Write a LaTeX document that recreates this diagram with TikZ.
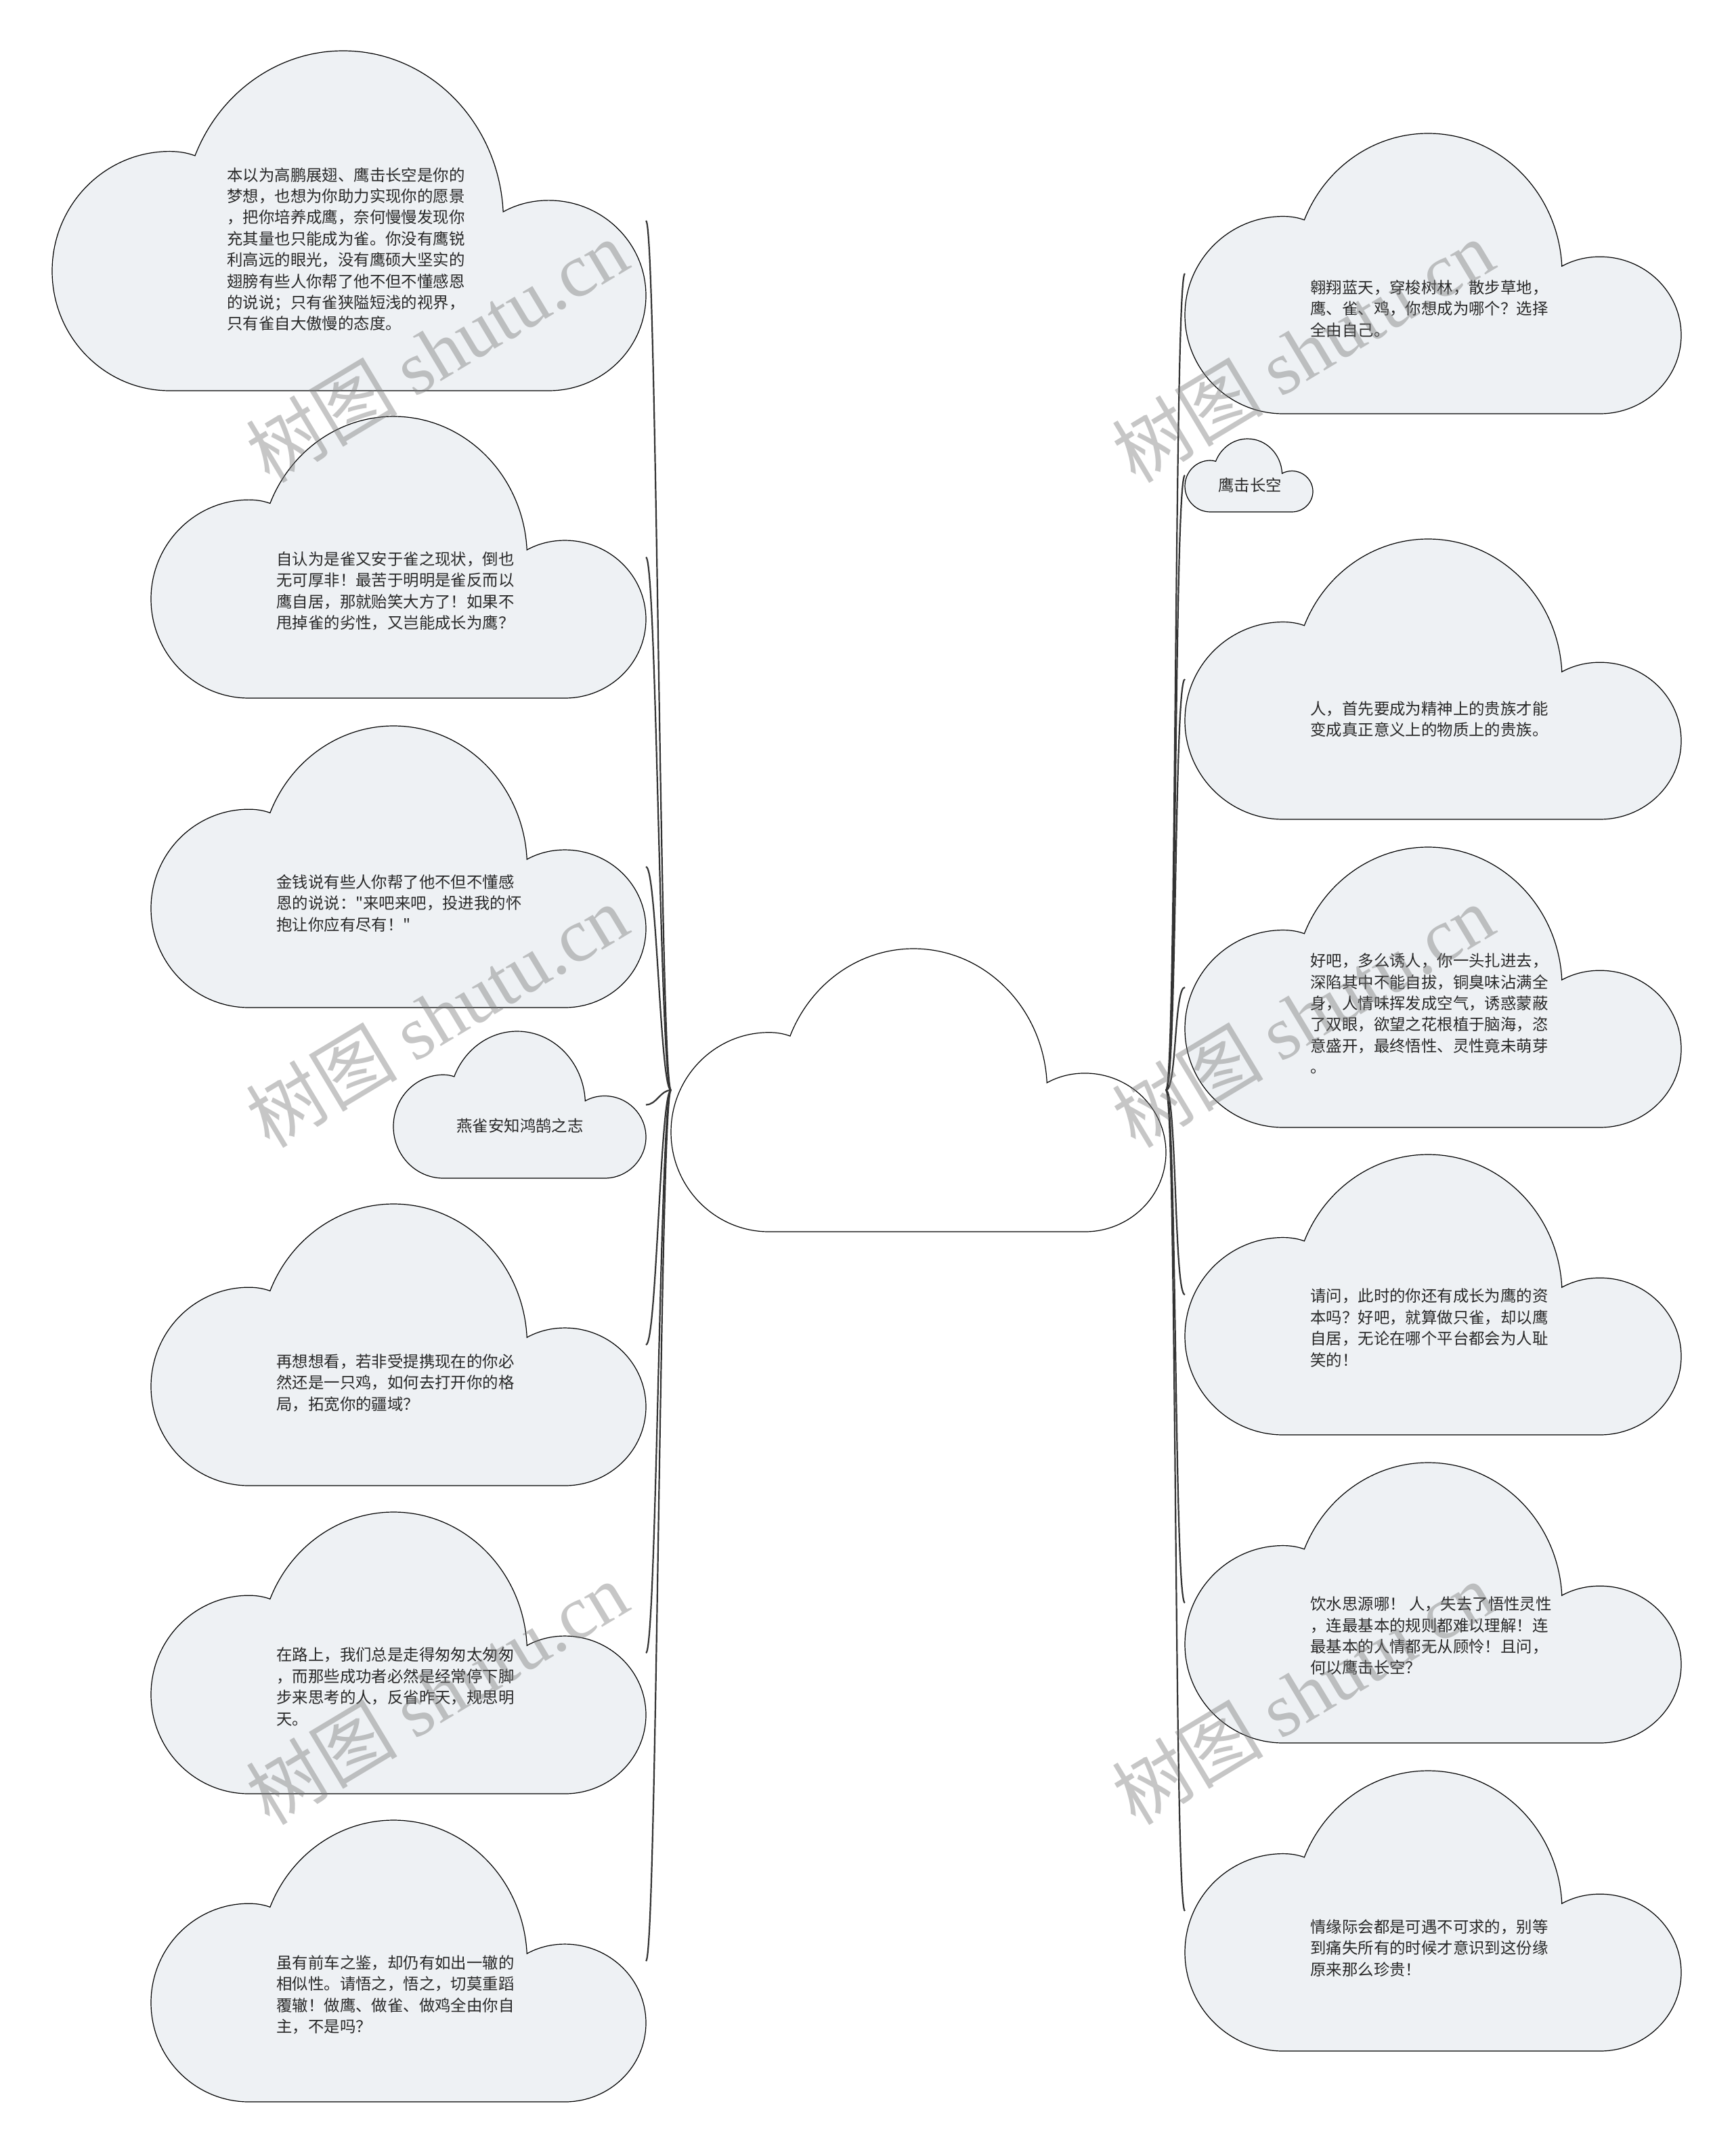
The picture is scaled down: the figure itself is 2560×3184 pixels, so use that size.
\documentclass[tikz,border=0pt]{standalone}
\usepackage{fontspec}
\setmainfont{Noto Sans CJK SC}[Ligatures=TeXOff]
\newfontfamily\wmcjk{Noto Sans CJK SC}
\newfontfamily\wmserif{Liberation Serif}
\definecolor{cloudfill}{RGB}{238,241,244}
\definecolor{txtcol}{RGB}{40,40,40}
\definecolor{linkcol}{RGB}{51,51,51}
\definecolor{wmcol}{RGB}{120,120,120}
\newcommand\cloudpath{(0.198,1) .. controls (0.0886,1) and (0,0.8424) .. (0,0.648)
 .. controls (0,0.4536) and (0.0886,0.296) .. (0.198,0.296)
 .. controls (0.215,0.296) and (0.229,0.301) .. (0.2406,0.3087)
 .. controls (0.2823,0.1218) and (0.3808,0) .. (0.49,0)
 .. controls (0.6336,0) and (0.7521,0.2082) .. (0.7596,0.4738)
 .. controls (0.7827,0.4513) and (0.8092,0.44) .. (0.836,0.44)
 .. controls (0.9266,0.44) and (1,0.5654) .. (1,0.72)
 .. controls (1,0.8746) and (0.9266,1) .. (0.836,1) -- cycle}
\newcommand\cloudshape[6]{%
  \path[cloudline, fill=#6, shift={(#2,#3)}, xscale=#4, yscale=#5] \cloudpath;
  \node[cloudbox, minimum width=#4*0.5pt, minimum height=#5*0.5pt] (#1) at (#2,#3) {};
}
\tikzset{
  cloudline/.style={draw=black, line width=0.6pt},
  cloudbox/.style={anchor=north west, inner sep=0pt, outer sep=0pt, draw=none},
  txt/.style={inner sep=0pt, align=left, text=txtcol, font=\fontsize{11.7pt}{15.7pt}\selectfont},
  link/.style={draw=linkcol, line width=1.1pt},
  wm/.style={inner sep=0pt, rotate=31, text=wmcol, opacity=0.42, font=\fontsize{56pt}{60pt}\selectfont}
}
\begin{document}
\begin{tikzpicture}[x=0.5pt, y=-0.5pt]
\useasboundingbox[fill=white] (0,0) rectangle (2560,3184);
% clouds
\cloudshape{root}{991}{1401}{731}{418}{white}
\cloudshape{L1}{77}{75}{877}{502}{cloudfill}
\cloudshape{L2}{223}{615}{731}{416}{cloudfill}
\cloudshape{L3}{223}{1072}{731}{416}{cloudfill}
\cloudshape{L4}{581}{1523}{373}{217}{cloudfill}
\cloudshape{L5}{223}{1778}{731}{416}{cloudfill}
\cloudshape{L6}{223}{2233}{731}{416}{cloudfill}
\cloudshape{L7}{223}{2688}{731}{416}{cloudfill}
\cloudshape{R1}{1750}{197}{733}{414}{cloudfill}
\cloudshape{R2}{1750}{648}{189}{108}{cloudfill}
\cloudshape{R3}{1750}{796}{733}{414}{cloudfill}
\cloudshape{R4}{1750}{1251}{733}{414}{cloudfill}
\cloudshape{R5}{1750}{1705}{733}{414}{cloudfill}
\cloudshape{R6}{1750}{2160}{733}{414}{cloudfill}
\cloudshape{R7}{1750}{2615}{733}{414}{cloudfill}
% connectors
\foreach \c in {L1,L2,L3,L4,L5,L6,L7}
  \draw[link] (root.west) .. controls +(-16,0) and +(16,0) .. (\c.east);
\foreach \c in {R1,R2,R3,R4,R5,R6,R7}
  \draw[link] (root.east) .. controls +(16,0) and +(-16,0) .. (\c.west);
% texts
\node[txt, anchor=west] (tL1) at (335,368) {本以为高鹏展翅、鹰击长空是你的\\梦想，也想为你助力实现你的愿景\\，把你培养成鹰，奈何慢慢发现你\\充其量也只能成为雀。你没有鹰锐\\利高远的眼光，没有鹰硕大坚实的\\翅膀有些人你帮了他不但不懂感恩\\的说说；只有雀狭隘短浅的视界，\\只有雀自大傲慢的态度。};
\node[txt, anchor=west] (tL2) at (408,873) {自认为是雀又安于雀之现状，倒也\\无可厚非！最苦于明明是雀反而以\\鹰自居，那就贻笑大方了！如果不\\甩掉雀的劣性，又岂能成长为鹰？};
\node[txt, anchor=west] (tL3) at (408,1334) {金钱说有些人你帮了他不但不懂感\\恩的说说："来吧来吧，投进我的怀\\抱让你应有尽有！"};
\node[txt] (tL4) at (768,1663) {燕雀安知鸿鹄之志};
\node[txt, anchor=west] (tL5) at (408,2042) {再想想看，若非受提携现在的你必\\然还是一只鸡，如何去打开你的格\\局，拓宽你的疆域？};
\node[txt, anchor=west] (tL6) at (408,2491) {在路上，我们总是走得匆匆太匆匆\\，而那些成功者必然是经常停下脚\\步来思考的人，反省昨天，规思明\\天。};
\node[txt, anchor=west] (tL7) at (408,2946) {虽有前车之鉴，却仍有如出一辙的\\相似性。请悟之，悟之，切莫重蹈\\覆辙！做鹰、做雀、做鸡全由你自\\主，不是吗？};
\node[txt, anchor=west] (tR1) at (1935,456) {翱翔蓝天，穿梭树林，散步草地，\\鹰、雀、鸡，你想成为哪个？选择\\全由自己。};
\node[txt] (tR2) at (1846,717) {鹰击长空};
\node[txt, anchor=west] (tR3) at (1935,1062) {人，首先要成为精神上的贵族才能\\变成真正意义上的物质上的贵族。};
\node[txt, anchor=west] (tR4) at (1935,1497) {好吧，多么诱人，你一头扎进去，\\深陷其中不能自拔，铜臭味沾满全\\身，人情味挥发成空气，诱惑蒙蔽\\了双眼，欲望之花根植于脑海，恣\\意盛开，最终悟性、灵性竟未萌芽\\。};
\node[txt, anchor=west] (tR5) at (1935,1961) {请问，此时的你还有成长为鹰的资\\本吗？好吧，就算做只雀，却以鹰\\自居，无论在哪个平台都会为人耻\\笑的！};
\node[txt, anchor=west] (tR6) at (1935,2416) {饮水思源哪！ 人，失去了悟性灵性\\，连最基本的规则都难以理解！连\\最基本的人情都无从顾怜！且问，\\何以鹰击长空？};
\node[txt, anchor=west] (tR7) at (1935,2877) {情缘际会都是可遇不可求的，别等\\到痛失所有的时候才意识到这份缘\\原来那么珍贵！};
% watermarks
\foreach \n/\x/\y in {wm1/645/518, wm2/645/1500, wm3/645/2500, wm4/1924/518, wm5/1924/1500, wm6/1924/2500}
  \node[wm] (\n) at (\x,\y) {{\wmcjk 树图}\ {\wmserif shutu.cn}};
\end{tikzpicture}
\end{document}
